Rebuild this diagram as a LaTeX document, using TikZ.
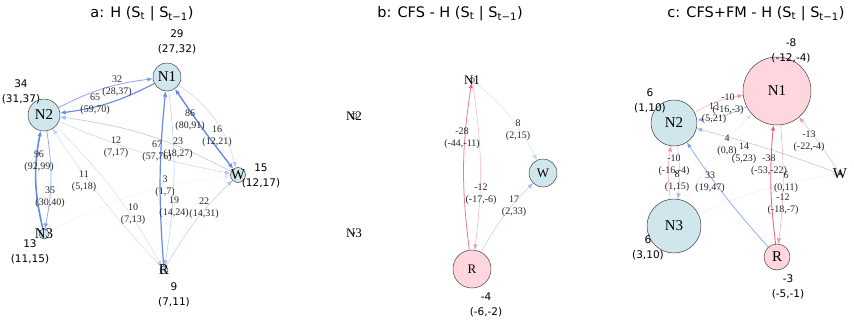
\documentclass[tikz,border=0pt]{standalone}
\usepackage{fontspec}
\setmainfont{Liberation Serif}
\setsansfont{DejaVu Sans}
\usetikzlibrary{arrows.meta,backgrounds}
\definecolor{stblue}{RGB}{207,230,237}
\definecolor{stpink}{RGB}{255,214,222}
\definecolor{eblue}{RGB}{98,137,235}
\definecolor{ered}{RGB}{231,76,110}
\begin{document}
\begin{tikzpicture}[x=1pt, y=-1pt,
  st/.style={circle, draw=black!75, line width=0.5pt, inner sep=0pt, fill=stblue},
  stneg/.style={st, fill=stpink},
  nma/.style={font=\fontsize{15}{15}\selectfont, inner sep=0pt},
  nmb/.style={font=\fontsize{13}{13}\selectfont, inner sep=0pt},
  ttl/.style={font=\sffamily\fontsize{14.5}{16}\selectfont},
  val/.style={font=\sffamily\fontsize{10.5}{14.5}\selectfont, align=center, inner sep=0pt},
  elab/.style={font=\fontsize{10}{12}\selectfont, align=center, inner sep=0pt, text=black!85},
  plusedge/.style={draw=eblue, -{Latex[length=5.5pt,width=4.5pt]}},
  minusedge/.style={draw=ered, -{Latex[length=5.5pt,width=4.5pt]}}]
\useasboundingbox (0,0) rectangle (854,327);

\node[ttl] (ta) at (142,14) {a: H (S\textsubscript{t} | S\textsubscript{t−1})};
\node[ttl] (tb) at (450,14) {b: CFS - H (S\textsubscript{t} | S\textsubscript{t−1})};
\node[ttl] (tc) at (756,14) {c: CFS+FM - H (S\textsubscript{t} | S\textsubscript{t−1})};

\node[st, minimum size=28pt, label={[nma]center:N1}] (aN1) at (167,77) {};
\node[st, minimum size=32pt, label={[nma]center:N2}] (aN2) at (44,115) {};
\node[st, minimum size=15pt, label={[nma]center:W}] (aW) at (238,175) {};
\node[st, minimum size=10pt, label={[nma]center:N3}] (aN3) at (44,234) {};
\node[st, minimum size=8pt, label={[nma]center:R}] (aR) at (164,270) {};
\node[val] (aN1v) at (177,42) {29\\(27,32)};
\node[val] (aN2v) at (21,92) {34\\(31,37)};
\node[val] (aWv) at (261,176) {15\\(12,17)};
\node[val] (aN3v) at (30,252) {13\\(11,15)};
\node[val] (aRv) at (174,295) {9\\(7,11)};

\node[st, minimum size=5pt, label={[nmb]center:N1}] (bN1) at (472,80) {};
\node[st, minimum size=6pt, label={[nmb]center:N2}] (bN2) at (354,116) {};
\node[st, minimum size=2pt, label={[nmb]center:N3}] (bN3) at (354,233) {};
\node[st, minimum size=28pt, label={[nmb]center:W}] (bW) at (543,173) {};
\node[stneg, minimum size=38pt, label={[nmb]center:R}] (bR) at (472,269) {};
\node[val] (bRv) at (486,305) {-4\\(-6,-2)};

\node[stneg, minimum size=68pt, label={[nma]center:N1}] (cN1) at (777,91) {};
\node[st, minimum size=46pt, label={[nma]center:N2}] (cN2) at (674,123) {};
\node[st, minimum size=54pt, label={[nma]center:N3}] (cN3) at (674,226) {};
\node[stneg, minimum size=26pt, label={[nma]center:R}] (cR) at (777,257) {};
\node[st, minimum size=2pt, label={[nma]center:W}] (cW) at (840,174) {};
\node[val] (cN1v) at (791,51) {-8\\(-12,-4)};
\node[val] (cN2v) at (650,101) {6\\(1,10)};
\node[val] (cN3v) at (648,248) {6\\(3,10)};
\node[val] (cRv) at (788,287) {-3\\(-5,-1)};

\begin{scope}[on background layer]
\draw[plusedge, line width=.8pt, opacity=.75] (aN2) to[bend left=10] (aN1);
\draw[plusedge, line width=1.1pt] (aN1) to[bend left=10] (aN2);
\draw[plusedge, line width=1.4pt, {Latex[length=5.5pt,width=4.5pt]}-{Latex[length=5.5pt,width=4.5pt]}] (aN1) to[bend right=2] (aW);
\draw[plusedge, line width=.45pt, opacity=.4] (aN1) to[bend left=20] (aW);
\draw[plusedge, line width=.45pt, opacity=.4] (aN2) to[bend right=6] (aW);
\draw[plusedge, line width=.55pt, opacity=.5] (aW) to[bend right=10] (aN2);
\draw[plusedge, line width=1.2pt] (aR) to[bend left=5] (aN1);
\draw[plusedge, line width=.5pt, opacity=.45] (aN1) to[bend left=8] (aR);
\draw[plusedge, line width=1.6pt] (aN3) to[bend left=12] (aN2);
\draw[plusedge, line width=.8pt, opacity=.7] (aN2) to[bend left=10] (aN3);
\draw[plusedge, line width=.4pt, opacity=.35] (aR) to[bend left=5] (aN2);
\draw[plusedge, line width=.4pt, opacity=.35] (aN2) to[bend left=8] (aR);
\draw[plusedge, line width=.3pt, opacity=.15] (aN3) to[bend left=10] (aW);
\draw[plusedge, line width=.5pt, opacity=.45] (aR) to[bend left=8] (aW);

\draw[minusedge, line width=.8pt, opacity=.75] (bR) to[bend left=8] (bN1);
\draw[minusedge, line width=.5pt, opacity=.45] (bN1) to[bend left=8] (bR);
\draw[plusedge, line width=.4pt, opacity=.3] (bN1) to[bend left=12] (bW);
\draw[plusedge, line width=.5pt, opacity=.45] (bR) to[bend left=8] (bW);

\draw[minusedge, line width=.45pt, opacity=.5] (cN2) to[bend left=10] (cN1);
\draw[plusedge, line width=.6pt, opacity=.6] (cN1) to[bend left=10] (cN2);
\draw[plusedge, line width=.3pt, opacity=.2] (cN3) to[bend left=10] (cN1);
\draw[plusedge, line width=.5pt, opacity=.55] (cW) to[bend right=3] (cN2);
\draw[minusedge, line width=.9pt, opacity=.85] (cR) to[bend left=6] (cN1);
\draw[minusedge, line width=.5pt, opacity=.5] (cN1) to[bend left=6] (cR);
\draw[minusedge, line width=.45pt, opacity=.45] (cW) to[bend right=3] (cN1);
\draw[minusedge, line width=.5pt, opacity=.5] (cN3) to[bend left=8] (cN2);
\draw[plusedge, line width=.45pt, opacity=.5] (cN2) to[bend left=8] (cN3);
\draw[plusedge, line width=.7pt, opacity=.75] (cR) to[bend left=4] (cN2);
\draw[plusedge, line width=.3pt, opacity=.2] (cN3) to[bend left=8] (cW);
\end{scope}

\node[elab] (al32) at (117,86) {32\\(28,37)};
\node[elab] (al65) at (95,104) {65\\(59,70)};
\node[elab] (al86) at (190,120) {86\\(80,91)};
\node[elab] (al16) at (217,136) {16\\(12,21)};
\node[elab] (al12) at (116,147) {12\\(7,17)};
\node[elab] (al23) at (178,148) {23\\(18,27)};
\node[elab] (al67) at (157,151) {67\\(57,76)};
\node[elab] (al96) at (39,161) {96\\(92,99)};
\node[elab] (al35) at (50,197) {35\\(30,40)};
\node[elab] (al11) at (84,181) {11\\(5,18)};
\node[elab] (al3) at (165,186) {3\\(1,7)};
\node[elab] (al10) at (133,214) {10\\(7,13)};
\node[elab] (al19) at (174,207) {19\\(14,24)};
\node[elab] (al22) at (204,208) {22\\(14,31)};

\node[elab] (bl28) at (462,138) {-28\\(-44,-11)};
\node[elab] (bl12) at (481,194) {-12\\(-17,-6)};
\node[elab] (bl8) at (518,130) {8\\(2,15)};
\node[elab] (bl17) at (514,206) {17\\(2,33)};

\node[elab] (cl10a) at (728,104) {-10\\(-16,-3)};
\node[elab] (cl13a) at (714,113) {13\\(5,21)};
\node[elab] (cl4) at (727,145) {4\\(0,8)};
\node[elab] (cl14) at (744,153) {14\\(5,23)};
\node[elab] (cl38) at (769,165) {-38\\(-53,-22)};
\node[elab] (cl6) at (786,182) {6\\(0,11)};
\node[elab] (cl12) at (783,204) {-12\\(-18,-7)};
\node[elab] (cl13b) at (809,141) {-13\\(-22,-4)};
\node[elab] (cl10b) at (674,165) {-10\\(-16,-4)};
\node[elab] (cl8) at (677,181) {8\\(1,15)};
\node[elab] (cl33) at (710,182) {33\\(19,47)};
\end{tikzpicture}
\end{document}
